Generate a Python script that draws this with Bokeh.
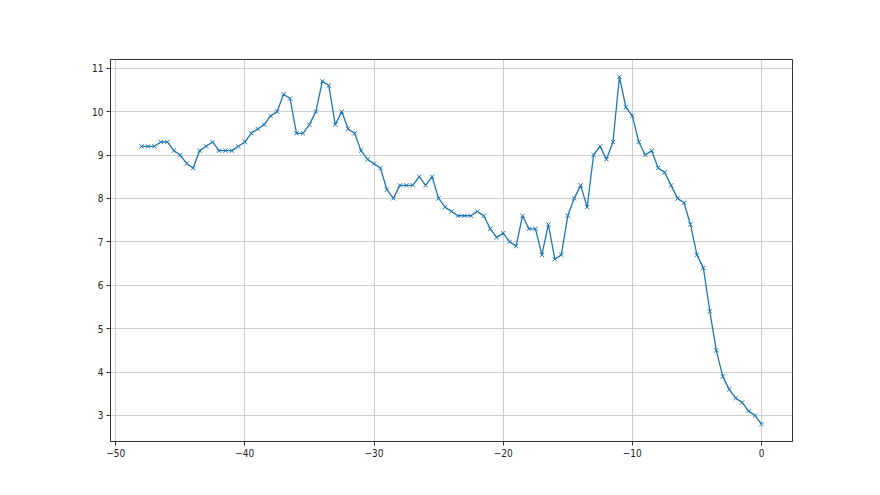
from bokeh.plotting import figure
from bokeh.embed import file_html
from bokeh.resources import INLINE
from bokeh.models import FixedTicker, CustomJSTickFormatter, Range1d

x_vals = [-48 + 0.5 * i for i in range(97)]
y_vals = [9.2, 9.2, 9.2, 9.3, 9.3, 9.1, 9.0, 8.8, 8.7, 9.1,
          9.2, 9.3, 9.1, 9.1, 9.1, 9.2, 9.3, 9.5, 9.6, 9.7,
          9.9, 10.0, 10.4, 10.3, 9.5, 9.5, 9.7, 10.0, 10.7, 10.6,
          9.7, 10.0, 9.6, 9.5, 9.1, 8.9, 8.8, 8.7, 8.2, 8.0,
          8.3, 8.3, 8.3, 8.5, 8.3, 8.5, 8.0, 7.8, 7.7, 7.6,
          7.6, 7.6, 7.7, 7.6, 7.3, 7.1, 7.2, 7.0, 6.9, 7.6,
          7.3, 7.3, 6.7, 7.4, 6.6, 6.7, 7.6, 8.0, 8.3, 7.8,
          9.0, 9.2, 8.9, 9.3, 10.8, 10.1, 9.9, 9.3, 9.0, 9.1,
          8.7, 8.6, 8.3, 8.0, 7.9, 7.4, 6.7, 6.4, 5.4, 4.5,
          3.9, 3.6, 3.4, 3.3, 3.1, 3.0, 2.8]
x_ticks = [-50, -40, -30, -20, -10, 0]
y_ticks = [3, 4, 5, 6, 7, 8, 9, 10, 11]

p = figure(width=872, height=487, output_backend="svg", toolbar_location=None,
           x_range=Range1d(-50.4, 2.4), y_range=Range1d(2.4, 11.2),
           min_border_left=110, min_border_top=59, min_border_right=80, min_border_bottom=46)
p.background_fill_color = "white"
p.border_fill_color = "white"
p.outline_line_color = "#333333"
p.outline_line_width = 1

p.line(x_vals, y_vals, line_color="#1f77b4", line_width=1.3)
p.scatter(x_vals, y_vals, marker="x", size=6, line_color="#1f77b4", line_width=1)

fmt = CustomJSTickFormatter(code="return tick.toString().replace('-', '\u2212');")
for ax, ticks in ((p.xaxis, x_ticks), (p.yaxis, y_ticks)):
    ax.ticker = FixedTicker(ticks=ticks)
    ax.formatter = fmt
    ax.major_tick_in = 0
    ax.major_tick_out = 4
    ax.minor_tick_line_color = None
    ax.axis_line_color = "#333333"
    ax.major_tick_line_color = "#333333"
    ax.major_label_text_font = "DejaVu Sans Condensed, DejaVu Sans"
    ax.major_label_text_font_size = "10px"
    ax.major_label_text_color = "#222222"
    ax.major_label_standoff = 3

p.xgrid.ticker = FixedTicker(ticks=x_ticks)
p.ygrid.ticker = FixedTicker(ticks=y_ticks)
for g in (p.xgrid, p.ygrid):
    g.grid_line_color = "#c0c0c0"
    g.grid_line_width = 0.8
    g.grid_line_alpha = 1.0

open("out.html", "w").write(file_html(p, INLINE))
